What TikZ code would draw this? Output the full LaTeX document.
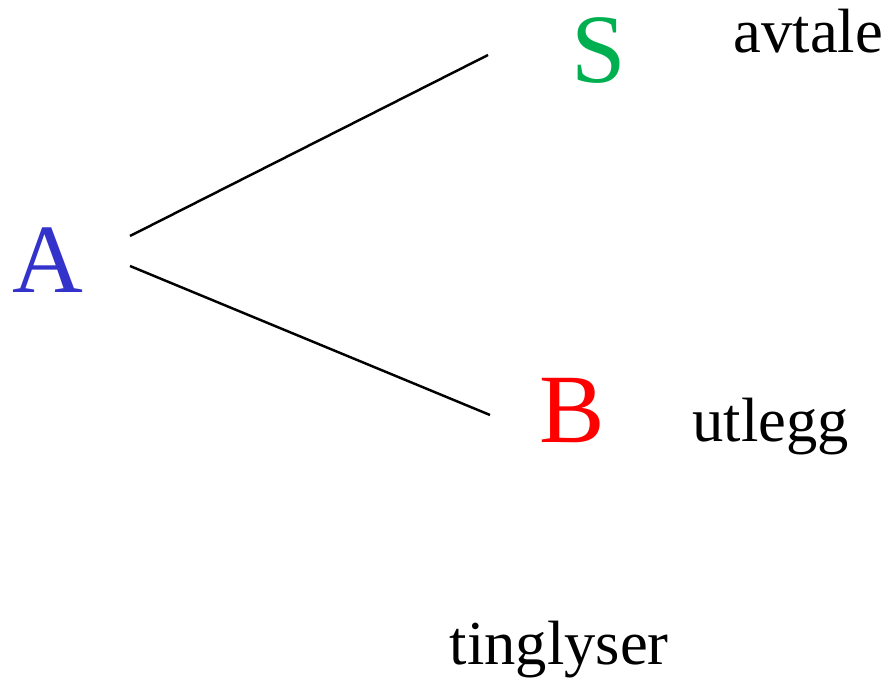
\documentclass[tikz,border=0pt]{standalone}
\usepackage{fontspec}
\setmainfont{LiberationSerif}[Extension=.ttf, UprightFont=*-Regular]
\definecolor{partyblue}{RGB}{51,51,204}
\definecolor{partygreen}{RGB}{0,176,80}
\definecolor{partyred}{RGB}{255,0,0}

\begin{document}
\begin{tikzpicture}[
    party/.style = {inner sep=0pt, anchor=base west, font=\fontsize{27.9pt}{30pt}\selectfont},
    act/.style   = {inner sep=0pt, anchor=base west, font=\fontsize{17.8pt}{20pt}\selectfont},
    link/.style  = {line width=0.7pt, black},
  ]
  \useasboundingbox (0,0) rectangle (8.91,6.81);

  % --- the parties ---------------------------------------------------------
  \node[party, partyblue]  (A) at (0.12, 3.88) {A};
  \node[party, partygreen] (S) at (5.71, 5.98) {S};
  \node[party, partyred]   (B) at (5.385, 2.38) {B};

  % --- what happens between them -------------------------------------------
  \node[act] (avtale)    at (7.33, 6.28) {avtale};
  \node[act] (utlegg)    at (6.92, 2.39) {utlegg};
  \node[act] (tinglyser) at (4.49, 0.16) {tinglyser};

  % --- ends of the two links -----------------------------------------------
  \coordinate (aS) at (1.30, 4.45);
  \coordinate (sA) at (4.88, 6.26);
  \coordinate (aB) at (1.30, 4.15);
  \coordinate (bA) at (4.90, 2.66);

  \draw[link] (aS) -- (sA);
  \draw[link] (aB) -- (bA);

\end{tikzpicture}
\end{document}
